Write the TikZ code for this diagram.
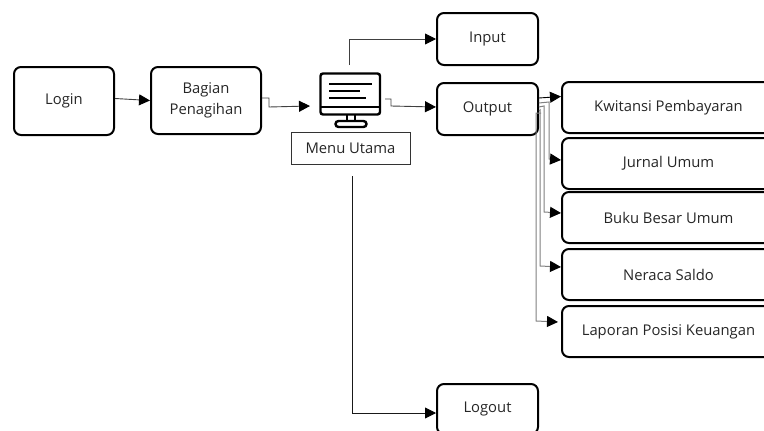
\documentclass[tikz,border=0pt]{standalone}
\usepackage{fontspec}
\setmainfont{Open Sans}
\usetikzlibrary{arrows.meta}
\begin{document}
\begin{tikzpicture}[x=1pt,y=-1pt,
        menu/.style={rectangle, rounded corners=7pt, draw=black, line width=2pt, align=center, text=black!85, font=\fontsize{14.8}{21}\selectfont, inner sep=0pt, anchor=north west},
        report/.style={menu, minimum width=213pt, minimum height=51pt},
        flow/.style={draw=black!75, line width=0.9pt, -{Triangle[length=11pt,width=11pt,black]}},
        trunk/.style={flow, draw=black!50, line width=1pt},
    ]
    \useasboundingbox (0,0) rectangle (764,431);
    \node[menu, minimum width=100pt, minimum height=68pt](login) at (13,66) {Login};
    \node[menu, minimum width=110pt, minimum height=67pt](bagian) at (150,66) {Bagian\\Penagihan};
    \node[menu, minimum width=101pt, minimum height=52pt](input) at (436,12) {Input};
    \node[menu, minimum width=101pt, minimum height=52pt](output) at (436,82) {Output};
    \node[menu, minimum width=101pt, minimum height=50pt](logout) at (436,383) {Logout};
    \node[report](kwitansi) at (561,81) {Kwitansi Pembayaran};
    \node[report](jurnal) at (561,137) {Jurnal Umum};
    \node[report](buku) at (561,191) {Buku Besar Umum};
    \node[report](neraca) at (561,248) {Neraca Saldo};
    \node[report](laporan) at (561,305) {Laporan Posisi Keuangan};
    \node[rectangle, draw=black!80, line width=0.7pt, minimum width=119pt, minimum height=32pt, inner sep=0pt, text=black!85, font=\fontsize{14.8}{18}\selectfont](utama) at (350.5,148) {Menu Utama};
    % monitor
    \draw[line width=2.4pt, rounded corners=2.5pt] (320.5,73.5) rectangle (380,114.5);
    \draw[line width=2.4pt] (320.5,107) -- (380,107);
    \draw[line width=2pt] (329,83.5) -- (372,83.5) (329,90.7) -- (360,90.7) (329,97.7) -- (366,97.7);
    \draw[line width=2pt] (347,115) -- (347,121) (355,115) -- (355,121);
    \draw[line width=2.4pt, rounded corners=3pt] (335.5,121) rectangle (366.5,127);
    \coordinate (monitorleft) at (310,106);
    \coordinate (monitorright) at (385,99);
    \coordinate (monitortop) at (349.5,65);
    \coordinate (utamabottom) at (352,176);
    % connectors
    \draw[flow] ([yshift=2.5pt]login.east) -- (bagian.west);
    \draw[flow] ([yshift=2.5pt]bagian.east) -- ++(7,0) -- ++(0,9) -- (monitorleft);
    \draw[flow] (monitortop) |- (input.west);
    \draw[flow] (monitorright) -- ++(6,0) -- ++(0,7) -- ([yshift=2pt]output.west);
    \draw[flow, draw=black!90] (utamabottom) |- ([yshift=-4pt]logout.west);
    \draw[flow, draw=black] ([yshift=11pt]output.east) -- ([yshift=11pt]kwitansi.west);
    \draw[trunk] ([yshift=6pt]output.east) -- (549,102) -- (549,159) -- ([yshift=3.5pt]jurnal.west);
    \draw[trunk] ([yshift=2pt]output.east) -- (544,106) -- (544,212) -- ([yshift=4.5pt]buku.west);
    \draw[trunk] ([yshift=-2pt]output.east) -- (540,110) -- (540,266) -- ([yshift=7.5pt]neraca.west);
    \draw[trunk] (541,113) -- (536,113) -- (536,321) -- ([xshift=-3pt,yshift=9.5pt]laporan.west);
\end{tikzpicture}
\end{document}
